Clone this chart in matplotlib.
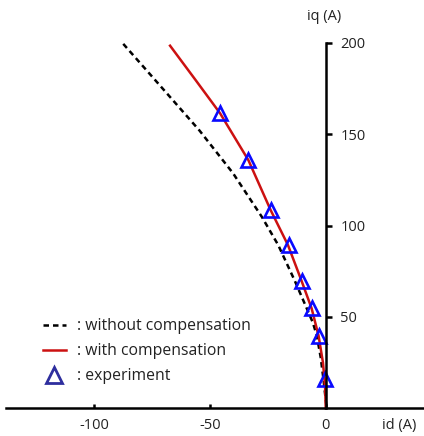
import numpy as np
import matplotlib
matplotlib.use("Agg")
import matplotlib.pyplot as plt
from matplotlib.lines import Line2D

plt.rcParams['font.family'] = ['Open Sans', 'DejaVu Sans']
plt.rcParams['axes.unicode_minus'] = False

# curve without compensation
id_wo = [-87.4, -68.0, -54.5, -40.0, -27.6, -20.5, -13.3, -8.2, -5.6, -3.9, -2.2, -1.0, 0.4]
iq_wo = [199.4, 171.5, 152.0, 128.6, 104.8, 89.3, 69.6, 54.7, 47.0, 40.0, 28.0, 16.0, 0.0]

# curve with compensation
id_w = [-67.2, -56.0, -45.6, -33.4, -23.8, -16.3, -10.4, -6.1, -3.1, -1.2, -0.3, 0.0]
iq_w = [198.4, 179.3, 161.4, 135.8, 108.5, 89.3, 69.6, 54.7, 39.7, 25.0, 12.0, 0.0]

# experiment points
id_exp = [-45.6, -33.4, -23.6, -16.0, -10.1, -5.9, -2.9, -0.3]
iq_exp = [161.4, 135.8, 108.5, 89.3, 69.6, 54.7, 39.7, 15.9]

xticks = [-100, -50, 0]
yticks = [50, 100, 150, 200]

fig = plt.figure(figsize=(4.24, 4.36), dpi=100)
ax = fig.add_axes([0, 0, 1, 1])
ax.set_xlim(-140.6, 42.4)
ax.set_ylim(-15.1, 223.4)

ax.plot(id_wo, iq_wo, color='black', linestyle=(0, (2.2, 1.6)), linewidth=1.8)
ax.plot(id_w, iq_w, color='#cc1111', linewidth=1.8)
ax.plot(id_exp, iq_exp, linestyle='none', marker='^', markersize=10,
        markerfacecolor='none', markeredgecolor='#0a0aff', markeredgewidth=1.9)

for s in ['left', 'top']:
    ax.spines[s].set_visible(False)
ax.spines['right'].set_position(('data', 0))
ax.spines['bottom'].set_position(('data', 0))
ax.spines['right'].set_bounds(0, 200)
ax.spines['bottom'].set_bounds(-138, 42.4)
for s in ['right', 'bottom']:
    ax.spines[s].set_linewidth(1.8)

ax.yaxis.tick_right()
ax.set_yticks(yticks)
ax.set_xticks(xticks)
ax.tick_params(axis='y', direction='out', length=4, width=1.8, pad=6.5,
               labelsize=10.5, labelcolor='#222222')
ax.tick_params(axis='x', direction='in', length=3, width=1.8, pad=7,
               labelsize=10.5, labelcolor='#222222')

ax.text(-0.7, 214.3, 'iq (A)', ha='center', va='center', fontsize=10.5, color='#222222')
ax.text(31.6, -9.5, 'id (A)', ha='center', va='center', fontsize=10.5, color='#222222')

handles = [
    Line2D([], [], color='black', linestyle=(0, (2.2, 1.6)), linewidth=1.8),
    Line2D([], [], color='#cc1111', linewidth=1.8),
    Line2D([], [], linestyle='none', marker='^', markersize=11, markerfacecolor='none',
           markeredgecolor='#2e2e9e', markeredgewidth=2),
]
labels = [': without compensation', ': with compensation', ': experiment']
ax.legend(handles, labels, loc='upper left', bbox_to_anchor=(0.101, 0.27),
          frameon=False, fontsize=11.3, handlelength=1.47, handletextpad=0.68,
          labelspacing=0.57, borderaxespad=0, borderpad=0, labelcolor='#222222')

fig.savefig('out.png', dpi=100)
